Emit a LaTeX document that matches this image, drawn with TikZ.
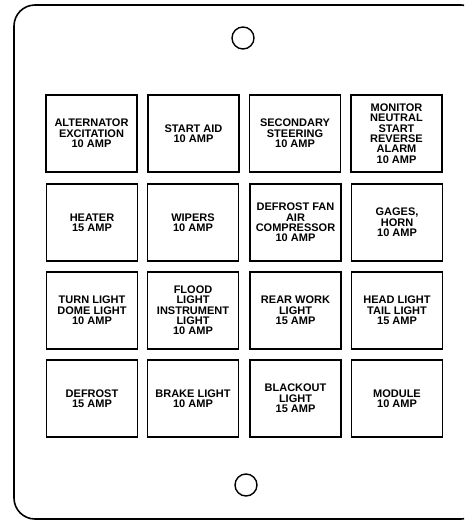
\documentclass[tikz,border=0pt]{standalone}
\usepackage{fontspec}
\setmainfont{Liberation Sans}
\begin{document}
\begin{tikzpicture}[x=1pt,y=-1pt,
  fuse/.style={draw, line width=1.5pt, minimum width=91pt, minimum height=77pt,
    inner sep=0pt, align=center, font=\bfseries\fontsize{11}{10.3}\selectfont},
  hole/.style={draw, circle, line width=1.4pt, minimum size=22pt, inner sep=0pt},
  plate/.style={draw, line width=1.6pt, rounded corners=21pt}]
\useasboundingbox (0,0) rectangle (464,520);
\begin{scope}
\clip (0,0) rectangle (464,520);
\draw[plate] (14,5) rectangle (482,519);
\end{scope}
\node[hole] (toph) at (243,38) {};
\node[hole] (both) at (246,485) {};
% row 1
\node[fuse] (a1) at (91.5,133.5) {ALTERNATOR\\EXCITATION\\10 AMP};
\node[fuse] (a2) at (193.5,133.5) {START AID\\10 AMP};
\node[fuse] (a3) at (295,133.5) {SECONDARY\\STEERING\\10 AMP};
\node[fuse] (a4) at (396.5,133.5) {MONITOR\\NEUTRAL\\START\\REVERSE\\ALARM\\10 AMP};
% row 2
\node[fuse] (b1) at (92,222.5) {HEATER\\15 AMP};
\node[fuse] (b2) at (193,222.5) {WIPERS\\10 AMP};
\node[fuse] (b3) at (295.5,222.5) {DEFROST FAN\\AIR\\COMPRESSOR\\10 AMP};
\node[fuse] (b4) at (397,222.5) {GAGES,\\HORN\\10 AMP};
% row 3
\node[fuse] (c1) at (92,310.5) {TURN LIGHT\\DOME LIGHT\\10 AMP};
\node[fuse] (c2) at (193,310.5) {FLOOD\\LIGHT\\INSTRUMENT\\LIGHT\\10 AMP};
\node[fuse] (c3) at (295.5,310.5) {REAR WORK\\LIGHT\\15 AMP};
\node[fuse] (c4) at (397,310.5) {HEAD LIGHT\\TAIL LIGHT\\15 AMP};
% row 4
\node[fuse] (d1) at (92,398.5) {DEFROST\\15 AMP};
\node[fuse] (d2) at (193,398.5) {BRAKE LIGHT\\10 AMP};
\node[fuse] (d3) at (295.5,398.5) {BLACKOUT\\LIGHT\\15 AMP};
\node[fuse] (d4) at (397,398.5) {MODULE\\10 AMP};
\end{tikzpicture}
\end{document}
